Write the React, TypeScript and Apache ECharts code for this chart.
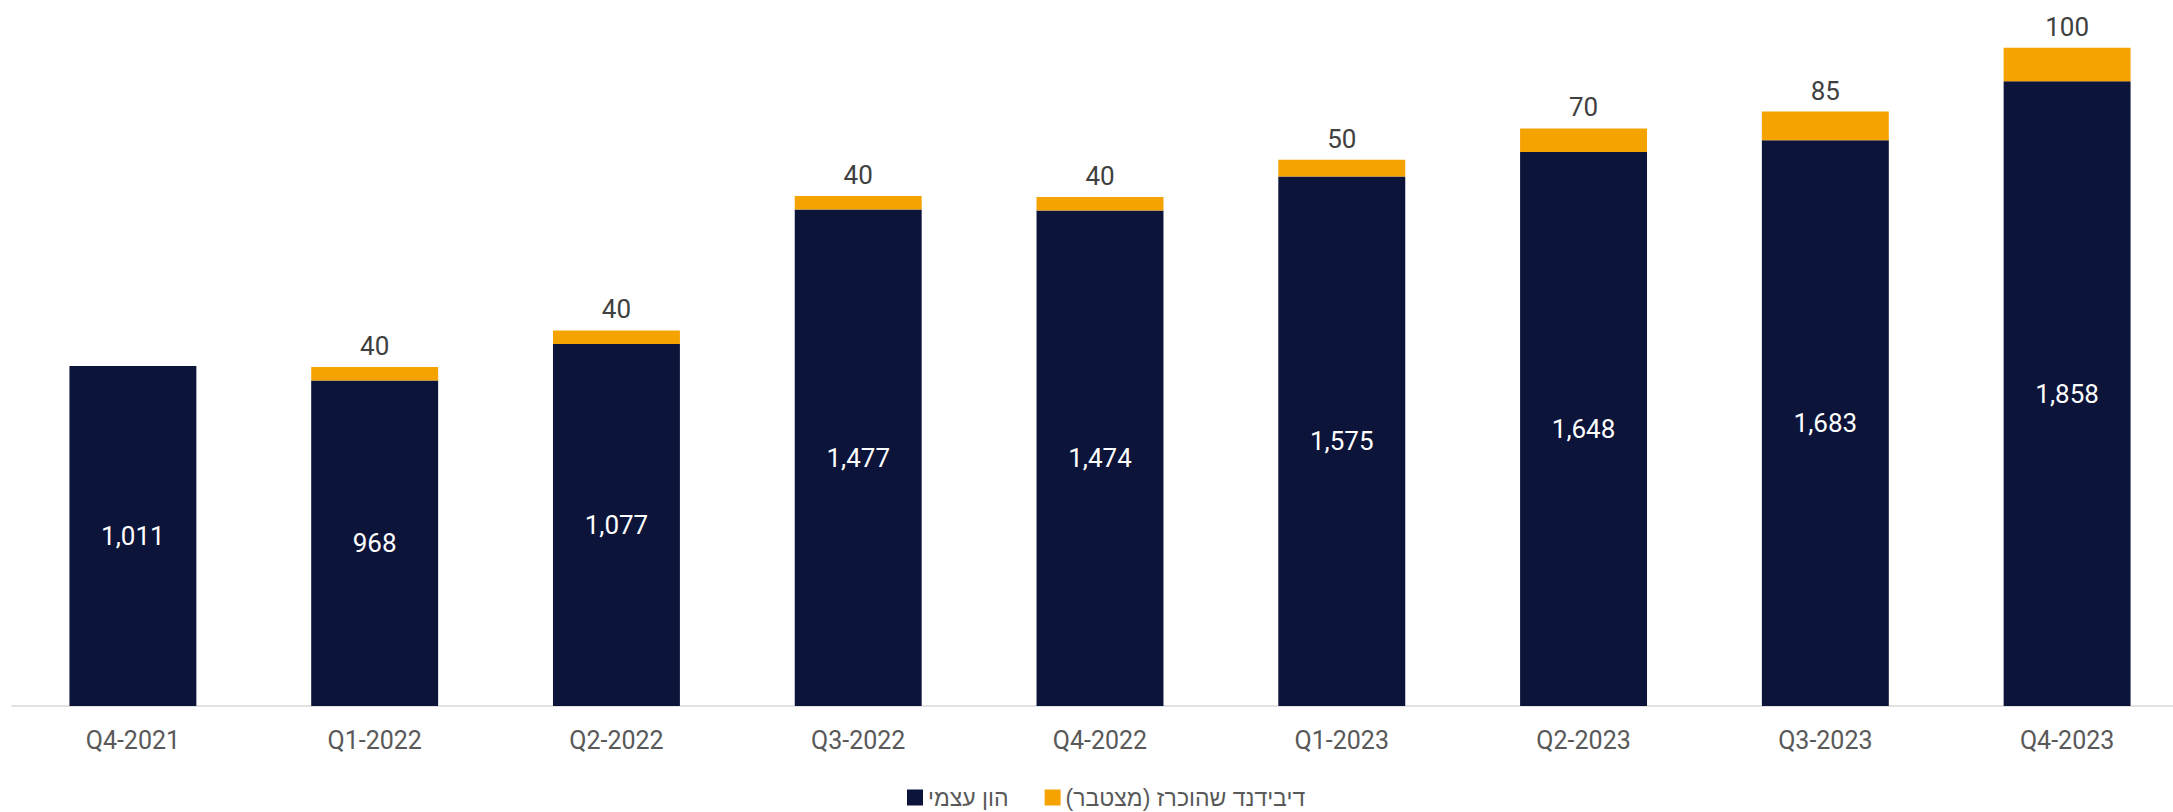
import React, { useEffect, useRef } from "react";
import * as echarts from "echarts";

const categories = ["Q4-2021", "Q1-2022", "Q2-2022", "Q3-2022", "Q4-2022", "Q1-2023", "Q2-2023", "Q3-2023", "Q4-2023"];
const equity = [1011, 968, 1077, 1477, 1474, 1575, 1648, 1683, 1858];
const dividends = [0, 40, 40, 40, 40, 50, 70, 85, 100];
const seriesNames = ["הון עצמי", "דיבידנד שהוכרז (מצטבר)\u200F"];

const FONT = "Roboto, 'Open Sans', sans-serif";
const HEB_FONT = "'Liberation Sans', Arial, 'Open Sans', sans-serif";

export default function App() {
  const ref = useRef<HTMLDivElement>(null);
  useEffect(() => {
    if (!ref.current) return;
    const chart = echarts.init(ref.current, null, { renderer: "svg" });
    chart.setOption({
      animation: false,
      backgroundColor: "#ffffff",
      textStyle: { fontFamily: FONT },
      grid: { left: 12, top: 0, height: 706, width: 2176, containLabel: false },
      legend: {
        data: seriesNames,
        left: 902,
        top: 781,
        itemWidth: 16,
        itemHeight: 16,
        itemGap: 36,
        icon: "rect",
        textStyle: { fontSize: 23, color: "#595959", fontFamily: HEB_FONT },
      },
      xAxis: {
        type: "category",
        data: categories,
        axisTick: { show: false },
        axisLine: { lineStyle: { color: "#d9d9d9", width: 1.5 } },
        axisLabel: { color: "#595959", fontSize: 25, margin: 22, fontFamily: FONT },
      },
      yAxis: {
        type: "value",
        min: 0,
        max: 2100,
        show: false,
        splitLine: { show: false },
      },
      series: [
        {
          name: seriesNames[0],
          type: "bar",
          stack: "total",
          barWidth: "52.5%",
          data: equity,
          itemStyle: { color: "#0c1439" },
          label: {
            show: true,
            position: "inside",
            color: "#ffffff",
            fontSize: 26,
            fontFamily: FONT,
            formatter: (p: any) => Number(p.value).toLocaleString("en-US"),
          },
        },
        {
          name: seriesNames[1],
          type: "bar",
          stack: "total",
          barWidth: "52.5%",
          data: dividends,
          itemStyle: { color: "#f5a300" },
          label: {
            show: true,
            position: "top",
            distance: 8,
            color: "#404040",
            fontSize: 26,
            fontFamily: FONT,
            formatter: (p: any) => (p.value > 0 ? String(p.value) : ""),
          },
        },
      ],
    });
    return () => chart.dispose();
  }, []);
  return (
    <div style={{ position: "absolute", left: 0, top: 0, width: 2173, height: 812, overflow: "hidden" }}>
      <div ref={ref} style={{ width: 2195, height: 812 }} />
    </div>
  );
}
